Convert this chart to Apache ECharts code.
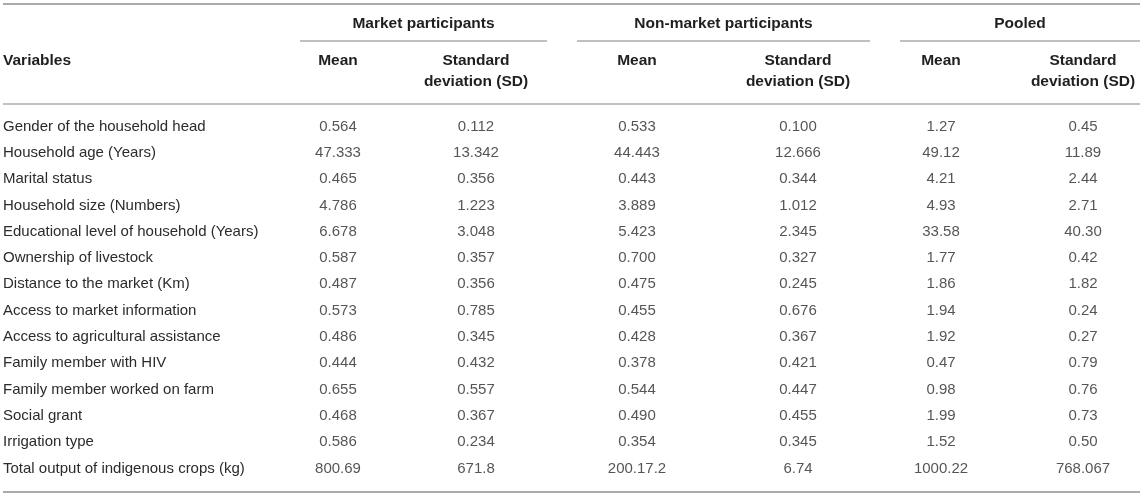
<!DOCTYPE html>
<html>
<head>
<meta charset="utf-8">
<script src="https://cdn.jsdelivr.net/npm/echarts@6.0.0/dist/echarts.min.js"></script>
<style>
html,body{margin:0;padding:0;background:#ffffff;}
#chart{width:1145px;height:495px;}
</style>
</head>
<body>
<div id="chart"></div>
<script>
// ---------- data ----------
const variables = [
  "Gender of the household head",
  "Household age (Years)",
  "Marital status",
  "Household size (Numbers)",
  "Educational level of household (Years)",
  "Ownership of livestock",
  "Distance to the market (Km)",
  "Access to market information",
  "Access to agricultural assistance",
  "Family member with HIV",
  "Family member worked on farm",
  "Social grant",
  "Irrigation type",
  "Total output of indigenous crops (kg)"
];
const marketMean = ["0.564","47.333","0.465","4.786","6.678","0.587","0.487","0.573","0.486","0.444","0.655","0.468","0.586","800.69"];
const marketSD   = ["0.112","13.342","0.356","1.223","3.048","0.357","0.356","0.785","0.345","0.432","0.557","0.367","0.234","671.8"];
const nonMean    = ["0.533","44.443","0.443","3.889","5.423","0.700","0.475","0.455","0.428","0.378","0.544","0.490","0.354","200.17.2"];
const nonSD      = ["0.100","12.666","0.344","1.012","2.345","0.327","0.245","0.676","0.367","0.421","0.447","0.455","0.345","6.74"];
const pooledMean = ["1.27","49.12","4.21","4.93","33.58","1.77","1.86","1.94","1.92","0.47","0.98","1.99","1.52","1000.22"];
const pooledSD   = ["0.45","11.89","2.44","2.71","40.30","0.42","1.82","0.24","0.27","0.79","0.76","0.73","0.50","768.067"];

const variablesTitle = "Variables";
const groupTitles = ["Market participants", "Non-market participants", "Pooled"];
const columnTitles = ["Mean", "Standard\ndeviation (SD)", "Mean", "Standard\ndeviation (SD)", "Mean", "Standard\ndeviation (SD)"];
const columns = [marketMean, marketSD, nonMean, nonSD, pooledMean, pooledSD];

// ---------- layout / style ----------
const W = 1145, H = 495;
const colCenters = [338, 476, 637, 798, 941, 1083];
const groupSpans = [[300, 547], [577, 870], [900, 1140]];
const ruleLeft = 3, ruleRight = 1140;
const rowTop = 126.5, rowH = 26.3;
const FONT = "'Liberation Sans', Arial, Helvetica, sans-serif";
const bodyColor = "#2b2b2b";
const headColor = "#1f1f1f";
const ruleColor = "#ababab";
const bodySize = 15, headSize = 15.5;

const chart = echarts.init(document.getElementById('chart'), null, {renderer: 'canvas'});

const series = columns.map((col, j) => ({
  type: 'scatter',
  silent: true,
  symbol: 'circle',
  symbolSize: 1,
  itemStyle: {color: 'rgba(0,0,0,0)'},
  label: {
    show: true,
    position: 'inside',
    formatter: p => p.value[2],
    color: bodyColor,
    fontFamily: FONT,
    fontSize: bodySize
  },
  data: col.map((v, i) => [colCenters[j], variables[i], v])
}));

const graphics = [];
function rule(x1, x2, y, w) {
  graphics.push({type: 'line', silent: true,
    shape: {x1: x1, y1: y, x2: x2, y2: y},
    style: {stroke: ruleColor, lineWidth: w}});
}
rule(ruleLeft, ruleRight, 4, 2);
rule(ruleLeft, ruleRight, 104, 1.5);
rule(ruleLeft, ruleRight, 492, 2);
groupSpans.forEach((s, g) => {
  rule(s[0], s[1], 41, 1.3);
  graphics.push({type: 'text', silent: true, x: (s[0] + s[1]) / 2, y: 24,
    style: {text: groupTitles[g], align: 'center', verticalAlign: 'middle',
      fill: headColor, font: 'bold ' + headSize + 'px ' + FONT}});
});
graphics.push({type: 'text', silent: true, x: 3, y: 61,
  style: {text: variablesTitle, align: 'left', verticalAlign: 'middle',
    fill: headColor, font: 'bold ' + headSize + 'px ' + FONT}});
columnTitles.forEach((t, j) => {
  graphics.push({type: 'text', silent: true, x: colCenters[j], y: 50.5,
    style: {text: t, align: 'center', verticalAlign: 'top', lineHeight: 21,
      fill: headColor, font: 'bold ' + headSize + 'px ' + FONT}});
});

chart.setOption({
  animation: false,
  backgroundColor: '#ffffff',
  grid: {left: 0, right: 0, top: rowTop - rowH / 2, height: rowH * variables.length, containLabel: false},
  xAxis: {type: 'value', min: 0, max: W, show: false},
  yAxis: {
    type: 'category',
    inverse: true,
    data: variables,
    axisLine: {show: false},
    axisTick: {show: false},
    splitLine: {show: false},
    axisLabel: {
      align: 'left',
      margin: -3,
      color: bodyColor,
      fontFamily: FONT,
      fontSize: bodySize
    }
  },
  graphic: graphics,
  series: series
});
</script>
</body>
</html>
